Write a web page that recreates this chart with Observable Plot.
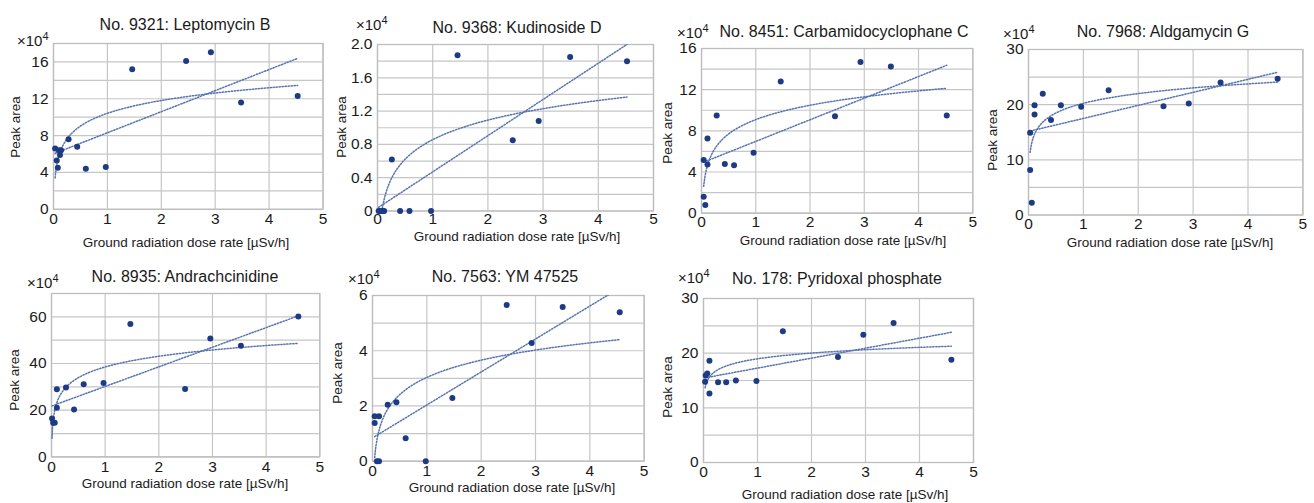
<!DOCTYPE html>
<html>
<head>
<meta charset="utf-8">
<script src="https://cdn.jsdelivr.net/npm/d3@7"></script>
<script src="https://cdn.jsdelivr.net/npm/@observablehq/plot@0.6"></script>
<style>
  html, body { margin: 0; padding: 0; background: #fff; }
  #root { position: relative; width: 1314px; height: 503px; overflow: hidden;
          font-family: "Liberation Sans", Arial, sans-serif; color: #1a1a1a; background: #fff; }
  .lbl { position: absolute; white-space: nowrap; transform: translate(-50%, -50%); line-height: 1; }
  .title { font-size: 16px; }
  .xlab { font-size: 13.5px; }
  .ylab { font-size: 13.5px; transform: translate(-50%, -50%) rotate(-90deg); }
  .mult { position: absolute; white-space: nowrap; font-size: 15px; line-height: 1; transform: translate(0, -50%); }
  .mult sup { font-size: 11px; vertical-align: 6px; line-height: 0; }
  svg { position: absolute; }
</style>
</head>
<body>
<div id="root"></div>
<script>
// ---------------- DATA ----------------
const titles = [
  "No. 9321: Leptomycin B",
  "No. 9368: Kudinoside D",
  "No. 8451: Carbamidocyclophane C",
  "No. 7968: Aldgamycin G",
  "No. 8935: Andrachcinidine",
  "No. 7563: YM 47525",
  "No. 178: Pyridoxal phosphate"
];
const xLabel = "Ground radiation dose rate [µSv/h]";
const yLabel = "Peak area";
const multiplier = "×10";
const multiplierExp = "4";
const xTicks = [0, 1, 2, 3, 4, 5];

// dose rate (µSv/h) and peak area (×10^4) for each compound
const dose9321 = [0.03, 0.06, 0.08, 0.10, 0.12, 0.14, 0.28, 0.44, 0.60, 0.97, 1.46, 2.46, 2.92, 3.48, 4.53];
const area9321 = [6.6, 5.3, 4.5, 6.4, 5.9, 6.4, 7.6, 6.8, 4.4, 4.6, 15.2, 16.1, 17.05, 11.6, 12.3];

const dose9368 = [0.02, 0.05, 0.08, 0.10, 0.12, 0.26, 0.41, 0.58, 0.97, 1.45, 2.45, 2.92, 3.49, 4.52];
const area9368 = [0.0, 0.0, 0.0, 0.0, 0.0, 0.62, 0.0, 0.0, 0.0, 1.87, 0.85, 1.08, 1.85, 1.80];

const dose8451 = [0.04, 0.04, 0.07, 0.11, 0.11, 0.28, 0.43, 0.60, 0.96, 1.46, 2.46, 2.93, 3.49, 4.52];
const area8451 = [5.16, 1.6, 0.8, 7.26, 4.74, 9.48, 4.77, 4.65, 5.87, 12.8, 9.42, 14.7, 14.26, 9.48];

const dose7968 = [0.03, 0.03, 0.06, 0.11, 0.11, 0.26, 0.41, 0.59, 0.96, 1.46, 2.46, 2.92, 3.50, 4.54];
const area7968 = [14.9, 8.15, 2.2, 19.9, 18.2, 22.0, 17.2, 19.9, 19.6, 22.6, 19.7, 20.2, 24.0, 24.7];

const dose8935 = [0.01, 0.03, 0.06, 0.10, 0.10, 0.27, 0.42, 0.60, 0.97, 1.47, 2.49, 2.96, 3.53, 4.60];
const area8935 = [16.4, 14.6, 14.6, 29.0, 21.0, 29.7, 20.3, 31.1, 31.7, 56.9, 29.1, 50.7, 47.6, 60.1];

const dose7563 = [0.04, 0.04, 0.08, 0.12, 0.12, 0.28, 0.44, 0.61, 0.98, 1.47, 2.47, 2.93, 3.50, 4.55];
const area7563 = [1.63, 1.38, 0.0, 0.0, 1.63, 2.04, 2.13, 0.83, 0.0, 2.29, 5.66, 4.28, 5.58, 5.39];

const dose178 = [0.03, 0.04, 0.07, 0.11, 0.11, 0.27, 0.42, 0.60, 0.98, 1.47, 2.49, 2.96, 3.52, 4.59];
const area178 = [14.76, 15.9, 16.3, 18.6, 12.6, 14.7, 14.7, 15.0, 14.9, 24.0, 19.3, 23.35, 25.5, 18.8];

// y-axis tick labels per panel
const yTicks9321 = [0, 4, 8, 12, 16];
const yTicks9368 = [0, 0.4, 0.8, 1.2, 1.6, 2.0];
const yTicks8451 = [0, 4, 8, 12, 16];
const yTicks7968 = [0, 10, 20, 30];
const yTicks8935 = [0, 20, 40, 60];
const yTicks7563 = [0, 2, 4, 6];
const yTicks178  = [0, 10, 20, 30];
// y-axis maxima and grid steps
const yMax  = [18, 2.0, 16, 30, 70, 6, 30];
const yGrid = [2, 0.2, 2, 5, 10, 1, 5];

// ---------------- LAYOUT ----------------
// frame: [left, top, right, bottom] in page px; text anchors in page px
const layout = [
  { frame: [52.5, 42.5, 322, 208.3], pad: 4, title: [185, 25], mult: [17, 40], ylab: [16, 127], xlab: [186, 243] },
  { frame: [377.3, 44.3, 653.3, 210.8], pad: 2, title: [517, 28], mult: [356, 24], ylab: [342, 127], xlab: [517, 237] },
  { frame: [700.7, 48.3, 972, 213], pad: 3, title: [844, 32], mult: [677, 32], ylab: [668, 133], xlab: [843, 241] },
  { frame: [1028.3, 49, 1302.7, 214.5], pad: 3, title: [1163, 32], mult: [1003, 33], ylab: [993, 140], xlab: [1170, 243] },
  { frame: [50.7, 293.3, 319, 456.7], pad: 4, title: [185, 277], mult: [27, 282], ylab: [15, 380], xlab: [185, 484] },
  { frame: [372.3, 295, 644, 460.7], pad: 4, title: [505, 277], mult: [348, 278], ylab: [338, 373], xlab: [512, 488] },
  { frame: [703.3, 298.3, 973.3, 462.3], pad: 3, title: [837, 279], mult: [678, 277], ylab: [668, 387], xlab: [845, 495] }
];

const panels = [
  [dose9321, area9321, yTicks9321, d => String(d)],
  [dose9368, area9368, yTicks9368, d => d === 0 ? "0" : d.toFixed(1)],
  [dose8451, area8451, yTicks8451, d => String(d)],
  [dose7968, area7968, yTicks7968, d => String(d)],
  [dose8935, area8935, yTicks8935, d => String(d)],
  [dose7563, area7563, yTicks7563, d => String(d)],
  [dose178,  area178,  yTicks178,  d => String(d)]
];

const root = document.getElementById("root");

function addText(cls, txt, pos) {
  const el = document.createElement("div");
  el.className = cls;
  el.textContent = txt;
  el.style.left = pos[0] + "px";
  el.style.top = pos[1] + "px";
  root.appendChild(el);
}

const fitStyle = { stroke: "#5874b0", strokeWidth: 1.5, strokeDasharray: "1.3 1.7", clip: true };

panels.forEach(([xs, ys, yt, yfmt], i) => {
  const L = layout[i];
  const [fl, ft, fr, fb] = L.frame;
  const mL = 50, mR = 20, mT = 12, mB = 30;
  const width = (fr - fl) + mL + mR;
  const height = (fb - ft) + mT + mB;

  const pts = xs.map((x, k) => ({ x, y: ys[k] }));

  // least-squares linear fit
  const mx = d3.mean(xs), my = d3.mean(ys);
  const b = d3.sum(xs, (x, k) => (x - mx) * (ys[k] - my)) / d3.sum(xs, x => (x - mx) ** 2);
  const a = my - b * mx;
  // least-squares logarithmic fit y = c + d ln x
  const lx = xs.map(Math.log);
  const mlx = d3.mean(lx);
  const dd = d3.sum(lx, (v, k) => (v - mlx) * (ys[k] - my)) / d3.sum(lx, v => (v - mlx) ** 2);
  const cc = my - dd * mlx;
  const x0 = d3.min(xs), x1 = d3.max(xs);
  const samp = d3.range(0, 201).map(k => x0 * Math.pow(x1 / x0, k / 200));
  const linFit = [x0, x1].map(x => ({ x, y: a + b * x }));
  const logFit = samp.map(x => ({ x, y: cc + dd * Math.log(x) }));

  const gridVals = d3.range(0, yMax[i] + 1e-9, yGrid[i]);

  const chart = Plot.plot({
    width, height,
    marginLeft: mL, marginRight: mR, marginTop: mT, marginBottom: mB,
    style: { fontSize: "15.5px", fontFamily: "'Liberation Sans', Arial, sans-serif", color: "#1a1a1a", background: "transparent", overflow: "visible" },
    x: { domain: [0, 5] },
    y: { domain: [0, yMax[i]] },
    marks: [
      Plot.gridX(xTicks, { stroke: "#c6c6c6", strokeOpacity: 1, strokeWidth: 1.2 }),
      Plot.gridY(gridVals, { stroke: "#c6c6c6", strokeOpacity: 1, strokeWidth: 1.2 }),
      Plot.frame({ stroke: "#bdbdbd", strokeWidth: 1.3 }),
      Plot.axisX(xTicks, { tickSize: 0, tickPadding: L.pad, label: null, tickFormat: d => String(d) }),
      Plot.axisY(yt, { tickSize: 0, tickPadding: 5, label: null, tickFormat: yfmt }),
      Plot.line(linFit, { x: "x", y: "y", ...fitStyle }),
      Plot.line(logFit, { x: "x", y: "y", ...fitStyle }),
      Plot.dot(pts, { x: "x", y: "y", r: 3, fill: "#1d3b85", stroke: "none" })
    ]
  });
  chart.style.left = (fl - mL) + "px";
  chart.style.top = (ft - mT) + "px";
  root.appendChild(chart);

  addText("lbl title", titles[i], L.title);
  addText("lbl xlab", xLabel, L.xlab);
  addText("lbl ylab", yLabel, L.ylab);

  const m = document.createElement("div");
  m.className = "mult";
  m.style.left = L.mult[0] + "px";
  m.style.top = L.mult[1] + "px";
  m.appendChild(document.createTextNode(multiplier));
  const sup = document.createElement("sup");
  sup.textContent = multiplierExp;
  m.appendChild(sup);
  root.appendChild(m);
});
</script>
</body>
</html>
